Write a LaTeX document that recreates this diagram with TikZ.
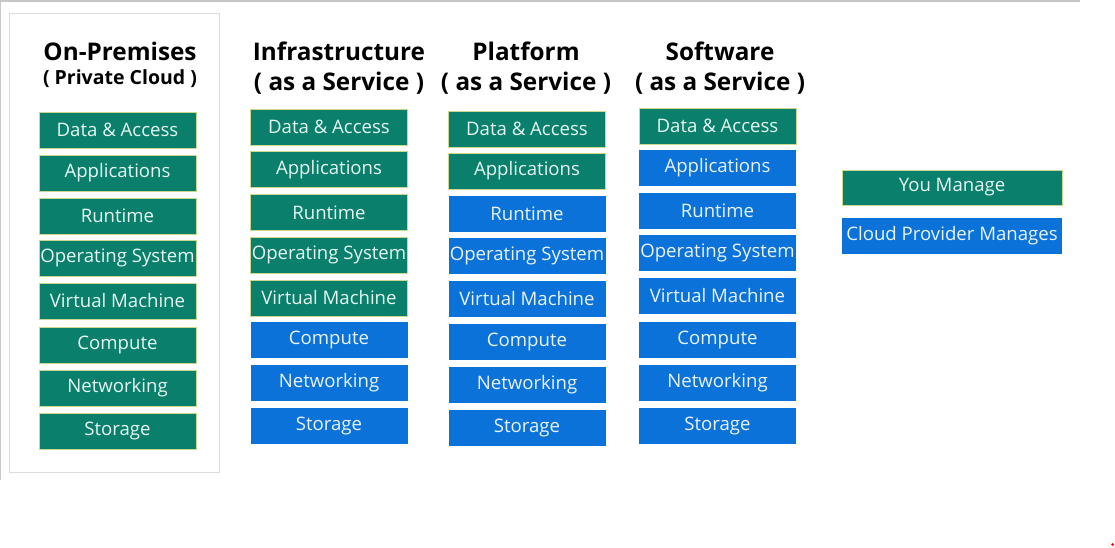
\documentclass[tikz,border=0pt]{standalone}
\usepackage{fontspec}
\setmainfont{Open Sans}
\definecolor{gfill}{HTML}{0A7F6C}
\definecolor{gborder}{HTML}{CAD98E}
\definecolor{bfill}{HTML}{0B72D9}
\definecolor{gtext}{HTML}{E6F7F2}
\definecolor{btext}{HTML}{EAF3FF}
\definecolor{panel}{HTML}{DDDDDD}
\definecolor{frame}{HTML}{C8C8C8}
\tikzset{
  layer/.style={minimum width=157pt, minimum height=36pt, inner sep=0pt, font=\fontsize{18.6}{20}\selectfont},
  gbox/.style={layer, fill=gfill, draw=gborder, line width=0.8pt, text=gtext},
  bbox/.style={layer, fill=bfill, text=btext},
  ttl/.style={font=\bfseries\fontsize{24.3}{26}\selectfont, inner sep=0pt},
  sub/.style={font=\bfseries\fontsize{19.5}{21}\selectfont, inner sep=0pt},
}
\begin{document}
\begin{tikzpicture}[x=1pt,y=-1pt]
\useasboundingbox (0,0) rectangle (1115,547);
\fill[white] (0,0) rectangle (1115,547);
% screenshot frame
\draw[frame, line width=1.2pt] (0,1) -- (1080,1);
\draw[frame, line width=1.2pt] (0.6,1) -- (0.6,480);
\fill[red] (1112.5,544.5) circle (1.5pt);
% panel
\draw[panel, line width=1pt, fill=white] (9,13) rectangle (219,472);
% titles
\node[ttl] (t1) at (120,51) {On-Premises};
\node[sub] (s1) at (120,79) {( Private Cloud )};
\node[ttl] (t2) at (339,51) {Infrastructure};
\node[ttl] (s2) at (339,83) {( as a Service )};
\node[ttl] (t3) at (526,51) {Platform};
\node[ttl] (s3) at (526,83) {( as a Service )};
\node[ttl] (t4) at (720,51) {Software};
\node[ttl] (s4) at (720,83) {( as a Service )};
% column 1
\node[gbox] (a1) at (117.5,130) {Data \& Access};
\node[gbox] (a2) at (117.5,173) {Applications};
\node[gbox] (a3) at (117.5,216) {Runtime};
\node[gbox] (a4) at (117.5,258) {Operating System};
\node[gbox] (a5) at (117.5,301) {Virtual Machine};
\node[gbox] (a6) at (117.5,345) {Compute};
\node[gbox] (a7) at (117.5,388) {Networking};
\node[gbox] (a8) at (117.5,431) {Storage};
% column 2
\node[gbox] (b1) at (329,127) {Data \& Access};
\node[gbox] (b2) at (329,169.5) {Applications};
\node[gbox] (b3) at (329,212.5) {Runtime};
\node[gbox] (b4) at (329,255) {Operating System};
\node[gbox] (b5) at (329,298) {Virtual Machine};
\node[bbox] (b6) at (329,340) {Compute};
\node[bbox] (b7) at (329,383) {Networking};
\node[bbox] (b8) at (329,426) {Storage};
% column 3
\node[gbox] (c1) at (527,129) {Data \& Access};
\node[gbox] (c2) at (527,171) {Applications};
\node[bbox] (c3) at (527,214) {Runtime};
\node[bbox] (c4) at (527,256) {Operating System};
\node[bbox] (c5) at (527,299) {Virtual Machine};
\node[bbox] (c6) at (527,342) {Compute};
\node[bbox] (c7) at (527,385) {Networking};
\node[bbox] (c8) at (527,428) {Storage};
% column 4
\node[gbox] (d1) at (717.5,126) {Data \& Access};
\node[bbox] (d2) at (717.5,168) {Applications};
\node[bbox] (d3) at (717.5,211) {Runtime};
\node[bbox] (d4) at (717.5,253) {Operating System};
\node[bbox] (d5) at (717.5,296) {Virtual Machine};
\node[bbox] (d6) at (717.5,340) {Compute};
\node[bbox] (d7) at (717.5,383) {Networking};
\node[bbox] (d8) at (717.5,426) {Storage};
% legend
\node[gbox, minimum width=220pt, minimum height=35pt] (l1) at (952,187.5) {You Manage};
\node[bbox, minimum width=220pt, minimum height=36pt] (l2) at (952,236) {Cloud Provider Manages};
\end{tikzpicture}
\end{document}
